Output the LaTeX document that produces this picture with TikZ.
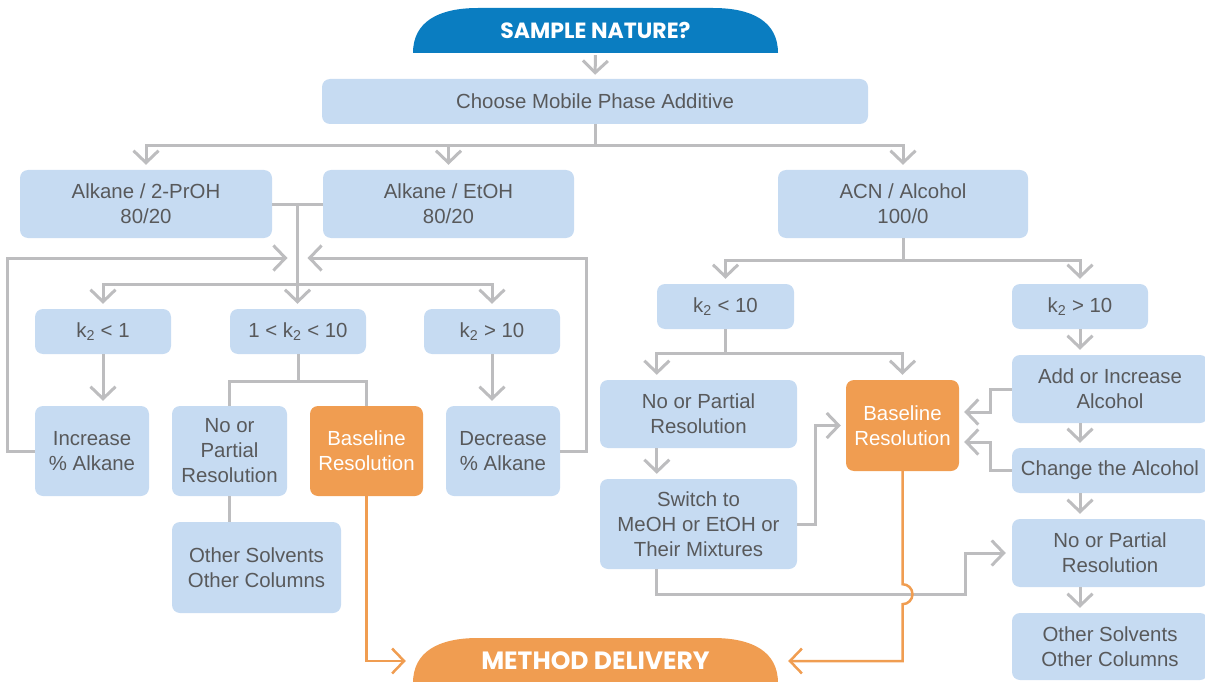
\documentclass[tikz,border=0pt]{standalone}
\usepackage{fontspec}
\setmainfont{Liberation Sans}
\newfontfamily\hfont{Poppins}
\usetikzlibrary{arrows.meta,calc}
\definecolor{boxblue}{HTML}{C6DBF2}
\definecolor{orng}{HTML}{F09D51}
\definecolor{hdrblue}{HTML}{0A7DC1}
\definecolor{lngray}{HTML}{BDBDBF}
\definecolor{txtgray}{HTML}{58595B}
\tikzset{
  bx/.style={fill=boxblue, rounded corners=8pt, text=txtgray, align=center, inner sep=0pt, font=\fontsize{20.4}{25}\selectfont},
  obx/.style={bx, fill=orng, text=white},
  htxt/.style={text=white, inner sep=0pt, minimum width=365pt, minimum height=45pt},
  ln/.style={draw=lngray, line width=3pt},
  ar/.style={ln, -{Straight Barb[length=12pt,width=25pt]}, shorten >=5pt},
  oln/.style={draw=orng, line width=2.5pt},
  oar/.style={oln, -{Straight Barb[length=12pt,width=25pt]}},
}
\begin{document}
\begin{tikzpicture}[x=1pt,y=-1pt]
\useasboundingbox (0,0) rectangle (1205,682);
% header shapes
\fill[hdrblue] (413,53) .. controls (413,22) and (438,8) .. (478,8) -- (713,8) .. controls (753,8) and (778,22) .. (778,53) -- cycle;
\node[htxt, font=\hfont\bfseries\fontsize{22}{26}\selectfont] (sample) at (595.5,30.5) {SAMPLE NATURE?};
\fill[orng] (413,690) -- (413,683) .. controls (413,652) and (438,638) .. (478,638) -- (713,638) .. controls (753,638) and (778,652) .. (778,683) -- (778,690) -- cycle;
\node[htxt, font=\hfont\bfseries\fontsize{25}{28}\selectfont] (method) at (595.5,661) {METHOD DELIVERY};
% boxes
\node[bx, minimum width=546pt, minimum height=45pt] (choose) at (595,101.5) {Choose Mobile Phase Additive};
\node[bx, minimum width=252pt, minimum height=68pt] (alk1) at (146,204) {Alkane / 2-PrOH\\80/20};
\node[bx, minimum width=251pt, minimum height=68pt] (alk2) at (448.5,204) {Alkane / EtOH\\80/20};
\node[bx, minimum width=250pt, minimum height=68pt] (acn) at (903,204) {ACN / Alcohol\\100/0};
\node[bx, minimum width=136pt, minimum height=45pt] (k1) at (103,331.5) {k\textsubscript{2} < 1};
\node[bx, minimum width=136pt, minimum height=45pt] (k2) at (298,331.5) {1 < k\textsubscript{2} < 10};
\node[bx, minimum width=136pt, minimum height=45pt] (k3) at (492,331.5) {k\textsubscript{2} > 10};
\node[bx, minimum width=114pt, minimum height=90pt] (inc) at (92,451) {Increase\\\% Alkane};
\node[bx, minimum width=115pt, minimum height=90pt] (nop1) at (229.5,451) {No or\\Partial\\Resolution};
\node[obx, minimum width=113pt, minimum height=90pt] (base1) at (366.5,451) {Baseline\\Resolution};
\node[bx, minimum width=114pt, minimum height=90pt] (dec) at (503,451) {Decrease\\\% Alkane};
\node[bx, minimum width=169pt, minimum height=91pt] (oth1) at (256.5,567.5) {Other Solvents\\Other Columns};
\node[bx, minimum width=137pt, minimum height=45pt] (k4) at (725.5,306.5) {k\textsubscript{2} < 10};
\node[bx, minimum width=136pt, minimum height=45pt] (k5) at (1080,306.5) {k\textsubscript{2} > 10};
\node[bx, minimum width=197pt, minimum height=68pt] (nop2) at (698.5,414) {No or Partial\\Resolution};
\node[obx, minimum width=113pt, minimum height=91pt] (base2) at (902.5,425.5) {Baseline\\Resolution};
\node[bx, minimum width=197pt, minimum height=90pt] (sw) at (698.5,524) {Switch to\\MeOH or EtOH or\\Their Mixtures};
\node[bx, minimum width=196pt, minimum height=68pt] (add) at (1110,389) {Add or Increase\\Alcohol};
\node[bx, minimum width=196pt, minimum height=45pt] (chg) at (1110,470.5) {Change the Alcohol};
\node[bx, minimum width=196pt, minimum height=68pt] (nop3) at (1110,553) {No or Partial\\Resolution};
\node[bx, minimum width=196pt, minimum height=67pt] (oth2) at (1110,646.5) {Other Solvents\\Other Columns};
% connectors: top
\draw[ar, shorten <=2pt, shorten >=4pt] (sample.south) -- (choose.north);
\draw[ln] (choose.south) -- ++(0,21) coordinate (j1);
\draw[ar] (j1) -| (alk1.north);
\draw[ar] (j1) -| (alk2.north);
\draw[ar] (j1) -| (acn.north);
% left branch
\draw[ln] (alk1.east) -- (alk2.west);
\coordinate (m) at ($(alk1.east)!0.5!(alk2.west)$);
\coordinate (lp) at ($(m)+(0,54)$);
\coordinate (j2) at ($(m)+(0,80)$);
\draw[ar] (m) -- (m |- k2.north);
\draw[ar] (j2) -| (k1.north);
\draw[ar] (j2) -| (k3.north);
\draw[ar, shorten >=10pt] (inc.west) -- ++(-27,0) |- (lp);
\draw[ar, shorten >=10pt] (dec.east) -- ++(26,0) |- (lp);
\draw[ar] (k1.south) -- (k1.south |- inc.north);
\draw[ar] (k3.south) -- (k3.south |- dec.north);
\draw[ln] (k2.south) -- ++(0,27) coordinate (j3);
\draw[ln] (j3) -| (nop1.north);
\draw[ln] (j3) -| (base1.north);
\draw[ln] (nop1.south) -- (nop1.south |- oth1.north);
\draw[oar, shorten >=7pt] (base1.south) |- (method.west);
% right branch
\draw[ln] (acn.south) -- ++(0,22) coordinate (j4);
\draw[ar] (j4) -| (k4.north);
\draw[ar] (j4) -| (k5.north);
\draw[ln] (k4.south) -- ++(0,24) coordinate (j5);
\coordinate (nx) at ($(nop2.north west)+(57,0)$);
\draw[ar] (j5) -| (nx);
\draw[ar] (j5) -| (base2.north);
\draw[ar] (nop2.south -| nx) -- (sw.north -| nx);
\draw[ar] (sw.east) -- ++(18,0) |- (base2.west);
\draw[ar] (add.west) -- ++(-21,0) |- ($(base2.east)+(0,-13.5)$);
\draw[ar] (chg.west) -- ++(-21,0) |- ($(base2.east)+(0,16.5)$);
\draw[ar] (k5.south) -- (k5.south |- add.north);
\draw[ar] (add.south -| k5.south) -- (chg.north -| k5.south);
\draw[ar] (chg.south -| k5.south) -- (nop3.north -| k5.south);
\draw[ar] (nop3.south -| k5.south) -- (oth2.north -| k5.south);
\coordinate (j6) at ($(sw.south -| nx)+(0,25)$);
\draw[ar, shorten >=6pt] (sw.south -| nx) |- ($(j6)+(309,0)$) |- (nop3.west);
\draw[oar, shorten >=10pt] (base2.south) -- ($(base2.south |- j6)+(0,-10)$) arc[start angle=-90, end angle=90, radius=10] |- (method.east);
\end{tikzpicture}
\end{document}
